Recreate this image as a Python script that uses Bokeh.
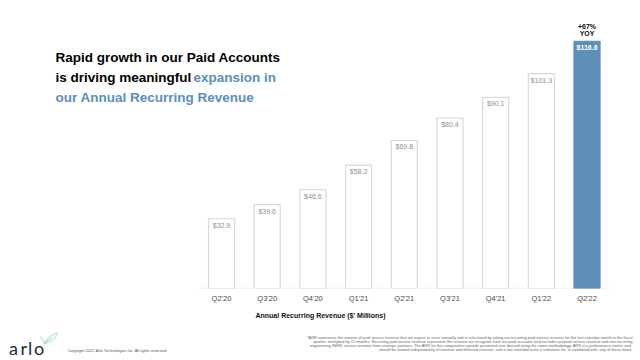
from bokeh.plotting import figure
from bokeh.layouts import column
from bokeh.models import (Range1d, Label, ColumnDataSource, PolyAnnotation,
                          FixedTicker)
from bokeh.core.properties import value
from bokeh.embed import file_html
from bokeh.resources import INLINE

# ---- data ----
quarters = ["Q2'20", "Q3'20", "Q4'20", "Q1'21", "Q2'21", "Q3'21", "Q4'21", "Q1'22", "Q2'22"]
arr_values = [32.9, 39.6, 46.6, 58.2, 69.8, 80.4, 90.1, 101.3, 116.6]
highlight = "Q2'22"
yoy_text = "+67%\nYOY"

title_line1 = "Rapid growth in our Paid Accounts"
title_line2a = "is driving meaningful"
title_line2b = "expansion in"
title_line3 = "our Annual Recurring Revenue"
axis_title = "Annual Recurring Revenue ($' Millions)"
logo_letters = ["a", "r", "l", "o"]
copyright_text = "Copyright 2022, Arlo Technologies Inc. All rights reserved."
footnote_lines = [
    "*ARR represents the amount of paid service revenue that we expect to recur annually and is calculated by taking our recurring paid service revenue for the last calendar month in the fiscal",
    "quarter, multiplied by 12 months. Recurring paid service revenue represents the revenue we recognize from our paid accounts and excludes prepaid service revenue and non-recurring",
    "engineering (NRE) service revenue from strategic partners. The ARR for the comparative periods presented was derived using the same methodology.  ARR is a performance metric and",
    "should be viewed independently of revenue and deferred revenue, and is not intended to be a substitute for, or combined with, any of these items.",
]

FONT = "Liberation Sans"
BLUE = "#5e8fb9"
TITLE_BLUE = "#5b8ec0"

# ---- layout constants (pixels) ----
W = 640
CHART_H = 328
FOOT_H = 32
FIRST_BAR_PX = 221.0     # centre of first bar
STEP_PX = 45.69          # distance between bar centres

idx = list(range(len(quarters)))
plain_i = [i for i, q in zip(idx, quarters) if q != highlight]
plain_v = [arr_values[i] for i in plain_i]
hi_i = quarters.index(highlight)
hi_v = arr_values[hi_i]

src_plain = ColumnDataSource(dict(x=plain_i, v=plain_v, lbl=[f"${v:.1f}" for v in plain_v]))
src_hi = ColumnDataSource(dict(x=[hi_i], v=[hi_v], lbl=[f"${hi_v:.1f}"], yoy=[yoy_text]))

x_start = -FIRST_BAR_PX / STEP_PX
x_end = (W - FIRST_BAR_PX) / STEP_PX

p = figure(x_range=Range1d(x_start, x_end), y_range=Range1d(0, 131.1),
           width=W, height=CHART_H, output_backend="svg", toolbar_location=None,
           y_axis_location=None,
           min_border_left=0, min_border_right=0, min_border_top=10, min_border_bottom=40)
p.background_fill_color = "white"
p.border_fill_color = "white"
p.outline_line_color = None
p.xgrid.grid_line_color = None
p.ygrid.grid_line_color = None

ax = p.xaxis[0]
ax.ticker = FixedTicker(ticks=idx)
ax.major_label_overrides = {i: q for i, q in zip(idx, quarters)}
ax.major_tick_line_color = None
ax.minor_tick_line_color = None
ax.major_tick_out = 0
ax.major_tick_in = 0
ax.minor_tick_out = 0
ax.minor_tick_in = 0
ax.axis_line_color = None
ax.major_label_text_font = FONT
ax.major_label_text_font_size = "7.5px"
ax.major_label_text_color = "#4a4a4a"
ax.major_label_standoff = 5
ax.axis_label = axis_title
ax.axis_label_text_font = FONT
ax.axis_label_text_font_size = "7px"
ax.axis_label_text_font_style = "bold"
ax.axis_label_text_color = "#111111"
ax.axis_label_standoff = 6

# baseline under the bars
p.segment(x0=[-0.5], x1=[len(quarters) - 0.5], y0=[0], y1=[0],
          line_color="#ebebeb", line_width=1.5)

p.vbar(x="x", top="v", width=0.57, source=src_plain, fill_color="white",
       line_color="#d9d9d9", line_width=1.2)
p.vbar(x="x", top="v", width=0.57, source=src_hi, fill_color=BLUE,
       line_color=BLUE, line_width=1.2)

p.text(x="x", y="v", text="lbl", source=src_plain, text_align="center",
       text_baseline="top", y_offset=3, text_font=value(FONT),
       text_font_size="7px", text_color="#909090")
p.text(x="x", y="v", text="lbl", source=src_hi, text_align="center",
       text_baseline="top", y_offset=3, text_font=value(FONT),
       text_font_size="7px", text_color="white", text_font_style="bold")
p.text(x="x", y="v", text="yoy", source=src_hi, text_align="center",
       text_baseline="bottom", y_offset=-4, text_font=value(FONT),
       text_font_size="7px", text_color="#111111", text_font_style="bold",
       text_line_height=1.05)


def add_label(fig, text, x, y, size, color, style="normal", align="left",
              baseline="middle", font=FONT):
    fig.add_layout(Label(x=x, y=y, x_units="canvas", y_units="canvas", text=text,
                         text_font=font, text_font_size=size, text_color=color,
                         text_font_style=style, text_align=align, text_baseline=baseline))


add_label(p, title_line1, 55, 56.7, "13.5px", "#000000", "bold")
add_label(p, title_line2a, 55, 76.7, "13.5px", "#000000", "bold")
add_label(p, title_line2b, 193, 76.7, "13.5px", TITLE_BLUE, "bold")
add_label(p, title_line3, 55, 96.7, "13.5px", TITLE_BLUE, "bold")

# ---- footer ----
f = figure(x_range=Range1d(0, W), y_range=Range1d(FOOT_H, 0), width=W, height=FOOT_H,
           output_backend="svg", toolbar_location=None,
           x_axis_location=None, y_axis_location=None,
           min_border_left=0, min_border_right=0, min_border_top=0, min_border_bottom=0)
f.background_fill_color = "white"
f.border_fill_color = "white"
f.outline_line_color = None
f.xgrid.grid_line_color = None
f.ygrid.grid_line_color = None

# wide-spaced logo word
for ch, lx in zip(logo_letters, [8.5, 20, 27.5, 33.5]):
    add_label(f, ch, lx, 19.5, "18px", "#1a2a3c", "normal", baseline="alphabetic", font="Lato")
add_label(f, copyright_text, 67, 21.5, "3.9px", "#555555")
for i, line in enumerate(footnote_lines):
    add_label(f, line, 632, 9 + 4.1 * i, "3.95px", "#666666", align="right")

leaf = PolyAnnotation(xs=[44, 47, 51, 57, 55, 51, 44], ys=[15, 10, 7, 4.5, 9, 12.5, 15],
                      xs_units="canvas", ys_units="canvas", fill_alpha=0,
                      line_color="#3fbf88", line_width=1.5)
vein = PolyAnnotation(xs=[44, 51, 51.3], ys=[15, 9, 9.3],
                      xs_units="canvas", ys_units="canvas", fill_alpha=0,
                      line_color="#3fbf88", line_width=1.0)
stem = PolyAnnotation(xs=[40, 44, 44.3], ys=[8, 15, 15],
                      xs_units="canvas", ys_units="canvas", fill_alpha=0,
                      line_color="#3fbf88", line_width=1.5)
f.add_layout(leaf)
f.add_layout(vein)
f.add_layout(stem)

layout = column(p, f, spacing=0)
open("out.html", "w").write(file_html(layout, INLINE))
